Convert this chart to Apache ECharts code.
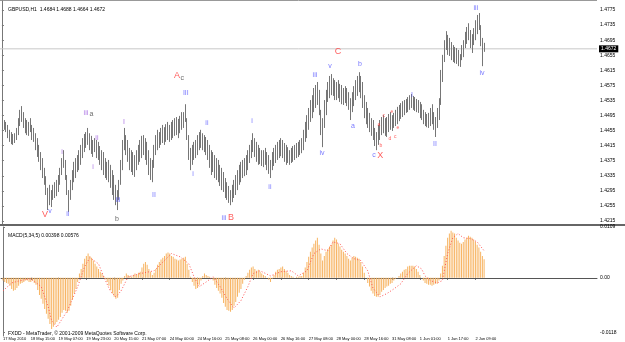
<!DOCTYPE html>
<html>
<head>
<meta charset="utf-8">
<script src="https://cdn.jsdelivr.net/npm/echarts@6/dist/echarts.min.js"></script>
<style>
html, body { margin: 0; padding: 0; background: #fff; }
#chart { width: 625px; height: 342px; }
</style>
</head>
<body>
<div id="chart"></div>
<script>
// GBPUSD H1, 17 May 2010 .. 2 Jun 2010, one entry per hourly bar
const highs = [
1.4488,1.4483,1.4478,1.4470,1.4457,1.4451,1.4446,1.4448,1.4462,1.4488,
1.4510,1.4520,1.4504,1.4488,1.4483,1.4478,1.4488,1.4470,1.4462,1.4448,
1.4435,1.4417,1.4398,1.4382,1.4356,1.4334,1.4303,1.4311,1.4297,1.4311,
1.4318,1.4324,1.4337,1.4356,1.4382,1.4403,1.4377,1.4337,1.4297,1.4324,
1.4350,1.4372,1.4382,1.4390,1.4403,1.4417,1.4435,1.4446,1.4451,1.4462,
1.4448,1.4441,1.4430,1.4435,1.4430,1.4425,1.4414,1.4403,1.4398,1.4382,
1.4372,1.4377,1.4364,1.4350,1.4337,1.4311,1.4297,1.4324,1.4377,1.4430,
1.4462,1.4443,1.4430,1.4409,1.4403,1.4398,1.4390,1.4403,1.4417,1.4430,
1.4441,1.4443,1.4435,1.4425,1.4403,1.4382,1.4377,1.4417,1.4443,1.4457,
1.4451,1.4462,1.4470,1.4464,1.4472,1.4478,1.4470,1.4478,1.4483,1.4488,
1.4491,1.4486,1.4494,1.4504,1.4504,1.4525,1.4488,1.4443,1.4409,1.4417,
1.4425,1.4430,1.4443,1.4451,1.4457,1.4448,1.4443,1.4438,1.4430,1.4417,
1.4403,1.4398,1.4390,1.4382,1.4377,1.4364,1.4356,1.4345,1.4329,1.4318,
1.4308,1.4297,1.4311,1.4324,1.4337,1.4350,1.4364,1.4372,1.4377,1.4382,
1.4390,1.4403,1.4417,1.4430,1.4448,1.4435,1.4425,1.4417,1.4409,1.4403,
1.4403,1.4409,1.4398,1.4390,1.4377,1.4398,1.4409,1.4417,1.4425,1.4430,
1.4435,1.4430,1.4422,1.4417,1.4411,1.4403,1.4409,1.4414,1.4417,1.4422,
1.4425,1.4430,1.4435,1.4457,1.4478,1.4496,1.4515,1.4536,1.4549,1.4568,
1.4576,1.4584,1.4563,1.4510,1.4488,1.4536,1.4563,1.4584,1.4600,1.4605,
1.4594,1.4589,1.4584,1.4589,1.4579,1.4576,1.4568,1.4573,1.4568,1.4557,
1.4541,1.4557,1.4573,1.4589,1.4600,1.4610,1.4600,1.4584,1.4549,1.4531,
1.4515,1.4502,1.4488,1.4483,1.4462,1.4451,1.4470,1.4483,1.4491,1.4496,
1.4488,1.4491,1.4499,1.4504,1.4496,1.4502,1.4510,1.4518,1.4523,1.4528,
1.4533,1.4536,1.4539,1.4544,1.4549,1.4552,1.4547,1.4544,1.4539,1.4536,
1.4531,1.4525,1.4510,1.4504,1.4499,1.4502,1.4515,1.4525,1.4504,1.4491,
1.4515,1.4541,1.4616,1.4656,1.4695,1.4719,1.4709,1.4701,1.4690,1.4682,
1.4677,1.4674,1.4669,1.4658,1.4682,1.4695,1.4717,1.4730,1.4740,1.4722,
1.4711,1.4727,1.4748,1.4762,1.4767,1.4735,1.4701,1.4688
];
const lows = [
1.4462,1.4457,1.4451,1.4435,1.4425,1.4419,1.4417,1.4422,1.4430,1.4443,
1.4467,1.4478,1.4462,1.4448,1.4443,1.4441,1.4451,1.4430,1.4425,1.4403,
1.4385,1.4372,1.4350,1.4329,1.4311,1.4284,1.4244,1.4257,1.4252,1.4271,
1.4276,1.4281,1.4292,1.4311,1.4337,1.4356,1.4324,1.4284,1.4239,1.4271,
1.4297,1.4318,1.4329,1.4345,1.4350,1.4364,1.4382,1.4398,1.4409,1.4417,
1.4403,1.4393,1.4385,1.4398,1.4382,1.4377,1.4364,1.4350,1.4337,1.4329,
1.4324,1.4318,1.4303,1.4284,1.4271,1.4257,1.4244,1.4271,1.4311,1.4350,
1.4403,1.4390,1.4372,1.4350,1.4345,1.4337,1.4332,1.4350,1.4364,1.4372,
1.4382,1.4390,1.4377,1.4364,1.4337,1.4324,1.4318,1.4356,1.4390,1.4403,
1.4409,1.4417,1.4422,1.4417,1.4425,1.4430,1.4425,1.4430,1.4435,1.4441,
1.4443,1.4435,1.4448,1.4457,1.4462,1.4478,1.4430,1.4377,1.4350,1.4364,
1.4377,1.4382,1.4390,1.4403,1.4409,1.4403,1.4398,1.4390,1.4377,1.4356,
1.4337,1.4345,1.4329,1.4324,1.4318,1.4308,1.4297,1.4292,1.4276,1.4271,
1.4263,1.4257,1.4265,1.4276,1.4284,1.4297,1.4311,1.4318,1.4329,1.4334,
1.4337,1.4350,1.4369,1.4382,1.4398,1.4385,1.4372,1.4364,1.4366,1.4361,
1.4358,1.4364,1.4350,1.4340,1.4329,1.4350,1.4361,1.4369,1.4377,1.4382,
1.4387,1.4382,1.4372,1.4364,1.4369,1.4364,1.4369,1.4372,1.4377,1.4382,
1.4385,1.4390,1.4395,1.4403,1.4425,1.4435,1.4457,1.4478,1.4488,1.4504,
1.4515,1.4523,1.4496,1.4443,1.4411,1.4462,1.4496,1.4531,1.4541,1.4549,
1.4547,1.4536,1.4536,1.4541,1.4531,1.4525,1.4523,1.4528,1.4520,1.4510,
1.4483,1.4504,1.4520,1.4536,1.4547,1.4557,1.4541,1.4515,1.4488,1.4472,
1.4462,1.4451,1.4441,1.4430,1.4414,1.4403,1.4417,1.4430,1.4443,1.4448,
1.4441,1.4438,1.4451,1.4457,1.4454,1.4462,1.4467,1.4472,1.4480,1.4486,
1.4491,1.4496,1.4502,1.4504,1.4510,1.4515,1.4510,1.4507,1.4504,1.4502,
1.4488,1.4483,1.4472,1.4467,1.4464,1.4462,1.4467,1.4472,1.4457,1.4438,
1.4462,1.4483,1.4523,1.4584,1.4637,1.4669,1.4656,1.4653,1.4642,1.4637,
1.4634,1.4632,1.4626,1.4624,1.4642,1.4650,1.4674,1.4685,1.4695,1.4674,
1.4661,1.4682,1.4695,1.4711,1.4722,1.4679,1.4626,1.4664
];
const lastPrice = 1.4672;

// MACD(5,34,5) main histogram, one value per bar
const macd = [
-0.0006,-0.0009,-0.0011,-0.0013,-0.0017,-0.0024,-0.0028,-0.0026,-0.0022,-0.0017,
-0.0013,-0.0011,-0.0009,-0.0006,-0.0006,-0.0009,-0.0009,-0.0006,-0.0011,-0.0015,
-0.0026,-0.0037,-0.0045,-0.0056,-0.0067,-0.0077,-0.0088,-0.0099,-0.0110,-0.0105,
-0.0099,-0.0095,-0.0090,-0.0084,-0.0075,-0.0069,-0.0071,-0.0075,-0.0071,-0.0060,
-0.0047,-0.0034,-0.0024,-0.0009,0.0009,0.0019,0.0030,0.0041,0.0047,0.0052,
0.0047,0.0043,0.0037,0.0030,0.0024,0.0019,0.0013,0.0009,0.0004,-0.0002,
-0.0009,-0.0017,-0.0026,-0.0034,-0.0041,-0.0045,-0.0043,-0.0026,-0.0013,-0.0006,
0.0004,0.0009,0.0006,0.0004,0.0002,0.0006,0.0009,0.0006,0.0011,0.0013,
0.0022,0.0030,0.0034,0.0028,0.0019,0.0013,0.0006,0.0011,0.0019,0.0028,
0.0034,0.0039,0.0043,0.0047,0.0052,0.0054,0.0052,0.0047,0.0045,0.0041,
0.0039,0.0037,0.0039,0.0041,0.0043,0.0045,0.0030,0.0017,0.0002,-0.0009,
-0.0017,-0.0024,-0.0022,-0.0015,-0.0006,0.0004,0.0009,0.0006,0.0004,0.0002,
0.0000,-0.0006,-0.0015,-0.0022,-0.0028,-0.0034,-0.0043,-0.0054,-0.0062,-0.0069,
-0.0071,-0.0073,-0.0069,-0.0060,-0.0052,-0.0041,-0.0032,-0.0024,-0.0013,-0.0004,
0.0004,0.0011,0.0017,0.0022,0.0024,0.0019,0.0015,0.0017,0.0013,0.0009,
0.0006,0.0004,0.0000,-0.0004,-0.0009,-0.0002,0.0006,0.0013,0.0017,0.0019,
0.0022,0.0024,0.0019,0.0015,0.0011,0.0006,0.0004,0.0002,0.0000,0.0002,
0.0002,0.0004,0.0004,0.0011,0.0022,0.0034,0.0045,0.0056,0.0065,0.0073,
0.0080,0.0086,0.0071,0.0052,0.0037,0.0047,0.0056,0.0062,0.0067,0.0071,
0.0080,0.0086,0.0082,0.0073,0.0067,0.0060,0.0056,0.0052,0.0047,0.0041,
0.0037,0.0043,0.0047,0.0045,0.0043,0.0041,0.0034,0.0024,0.0011,0.0000,
-0.0011,-0.0019,-0.0028,-0.0034,-0.0039,-0.0041,-0.0041,-0.0037,-0.0030,-0.0026,
-0.0022,-0.0019,-0.0017,-0.0013,-0.0011,-0.0006,-0.0002,0.0000,0.0004,0.0009,
0.0013,0.0017,0.0019,0.0024,0.0026,0.0026,0.0026,0.0024,0.0019,0.0013,
0.0006,0.0000,-0.0006,-0.0011,-0.0013,-0.0015,-0.0015,-0.0017,-0.0015,-0.0013,
-0.0013,-0.0006,0.0009,0.0026,0.0047,0.0069,0.0086,0.0095,0.0101,0.0097,
0.0095,0.0086,0.0080,0.0075,0.0073,0.0077,0.0082,0.0086,0.0090,0.0088,
0.0086,0.0082,0.0077,0.0071,0.0065,0.0056,0.0047,0.0040
];
// signal line, read at [bar, value] points
const signal = [
[0,-0.0028],[5,-0.0011],[10,-0.0006],[16,-0.0002],[22,-0.0019],[26,-0.0062],
[28,-0.0092],[31,-0.0106],[37,-0.0071],[43,-0.0019],[47,0.0024],[50,0.0043],
[55,0.0030],[58,0.0002],[62,-0.0030],[65,-0.0041],[68,-0.0028],[72,0.0002],
[79,0.0009],[87,0.0015],[93,0.0037],[97,0.0052],[102,0.0045],[107,0.0030],
[110,0.0002],[113,-0.0019],[117,-0.0009],[121,0.0002],[125,-0.0019],[129,-0.0045],
[133,-0.0065],[137,-0.0049],[141,-0.0019],[144,0.0009],[148,0.0015],[154,0.0004],
[160,0.0013],[166,0.0015],[170,0.0004],[175,0.0015],[179,0.0052],[183,0.0062],
[187,0.0058],[190,0.0077],[194,0.0073],[198,0.0052],[202,0.0041],[206,0.0037],
[210,0.0015],[213,-0.0022],[217,-0.0041],[221,-0.0034],[225,-0.0024],[229,-0.0013],
[233,0.0009],[238,0.0026],[241,0.0019],[243,0.0004],[246,-0.0006],[250,-0.0011],
[253,-0.0006],[256,0.0052],[259,0.0086],[262,0.0095],[265,0.0086],[269,0.0084],
[273,0.0077],[277,0.0058]
];

const priceTicks = [1.4215,1.4255,1.4295,1.4335,1.4375,1.4415,1.4455,1.4495,
  1.4535,1.4575,1.4615,1.4655,1.4695,1.4735,1.4775];
const macdTicks = [0.0109, 0, -0.0118];
const macdTickText = ['0.0109', '0.00', '-0.0118'];
const timeTickBars = [0,16,32,48,64,80,96,112,128,144,160,176,192,208,224,240,256,272];
const timeTickText = ['17 May 2010','18 May 15:00','19 May 07:00','19 May 23:00','20 May 15:00',
  '21 May 07:00','24 May 00:00','24 May 16:00','25 May 08:00','26 May 00:00','26 May 16:00',
  '27 May 08:00','28 May 00:00','28 May 16:00','31 May 08:00','1 Jun 01:00','1 Jun 17:00','2 Jun 09:00'];

// wave count text: [text, bar, price, kind]
const waves = [
  ['V',24.7,1.4231,'big'],['v',27.6,1.4242,'blue'],['ii',37.9,1.4234,'blue'],
  ['i',34.5,1.4398,'purple'],['iii',48.3,1.4502,'purple'],['a',51.4,1.4500,'dark'],
  ['ii',54.6,1.4435,'purple'],['i',52.3,1.4358,'purple'],['I',70.1,1.4478,'purple'],
  ['iii',66.7,1.4271,'blue'],['b',66.1,1.4220,'dark'],['II',87.4,1.4284,'blue'],
  ['A',100.6,1.4600,'big'],['c',103.6,1.4594,'dark'],['III',105.7,1.4555,'blue'],
  ['i',109.8,1.4340,'blue'],['ii',117.8,1.4475,'blue'],['iii',127.6,1.4223,'blue'],
  ['B',131.6,1.4223,'big'],['i',143.7,1.4480,'blue'],['ii',154.0,1.4305,'blue'],
  ['iii',179.9,1.4603,'blue'],['iv',183.9,1.4396,'blue'],['v',188.5,1.4627,'blue'],
  ['C',193.1,1.4666,'big'],['b',205.7,1.4632,'blue'],['a',201.7,1.4467,'blue'],
  ['c',213.8,1.4390,'blue'],['X',217.4,1.4390,'big'],
  ['a',216.7,1.4470,'tiny'],['b',217.8,1.4414,'tiny'],['c',219.5,1.4494,'tiny'],
  ['d',223.0,1.4433,'tiny'],['e',224.1,1.4504,'tiny'],['c',226.0,1.4440,'tiny'],['e',227.5,1.4462,'tiny'],
  ['I',235.6,1.4550,'blue'],['II',248.9,1.4420,'blue'],['iii',272.4,1.4780,'blue'],
  ['iv',275.9,1.4608,'blue']
];
const waveStyle = {
  big: { color: '#ff3333', fontSize: 9 },
  blue: { color: '#5555ff', fontSize: 7 },
  purple: { color: '#9955dd', fontSize: 7 },
  dark: { color: '#444444', fontSize: 7 },
  tiny: { color: '#ff3333', fontSize: 5 }
};

const FONT = 'Liberation Sans, Arial, sans-serif';
const xMin = -1.1, xMax = 342;

const chart = echarts.init(document.getElementById('chart'), null, { renderer: 'canvas' });

const option = {
  animation: false,
  backgroundColor: '#ffffff',
  textStyle: { fontFamily: FONT },
  title: [
    { text: 'GBPUSD,H1  1.4684 1.4688 1.4664 1.4672', left: 3, top: 2,
      textStyle: { fontSize: 5, fontWeight: 'normal', color: '#000', fontFamily: FONT } },
    { text: 'MACD(5,34,5) 0.00398 0.00576', left: 3, top: 228,
      textStyle: { fontSize: 5, fontWeight: 'normal', color: '#000', fontFamily: FONT } },
    { text: 'FXDD - MetaTrader, \u00a9 2001-2009 MetaQuotes Software Corp.', left: 3, top: 326,
      textStyle: { fontSize: 5, fontWeight: 'normal', color: '#000', fontFamily: FONT } }
  ],
  grid: [
    { left: 0, right: 28, top: 1, height: 223 },
    { left: 0, right: 28, top: 227, height: 109 }
  ],
  xAxis: [
    { gridIndex: 0, type: 'value', min: xMin, max: xMax, show: false },
    { gridIndex: 1, type: 'value', min: xMin, max: xMax,
      splitLine: { show: false },
      axisLine: { show: true, lineStyle: { color: '#555', width: 1 } },
      axisTick: { show: true, customValues: timeTickBars, length: 2, lineStyle: { color: '#555' } },
      axisLabel: { customValues: timeTickBars, fontSize: 4, color: '#000', margin: 1, align: 'left',
        hideOverlap: false,
        formatter: v => timeTickText[timeTickBars.indexOf(Math.round(v))] || '' } }
  ],
  yAxis: [
    { gridIndex: 0, type: 'value', position: 'right', min: 1.4207, max: 1.4799,
      splitLine: { show: false },
      axisLine: { show: true, lineStyle: { color: '#777' } },
      axisTick: { show: true, customValues: priceTicks, length: 2, lineStyle: { color: '#777' } },
      axisLabel: { customValues: priceTicks, fontSize: 5, color: '#000', margin: 3,
        formatter: v => v.toFixed(4) } },
    { gridIndex: 1, type: 'value', position: 'right', min: -0.0125, max: 0.0109,
      splitLine: { show: false },
      axisLine: { show: true, lineStyle: { color: '#777' } },
      axisTick: { show: true, customValues: macdTicks, length: 2, lineStyle: { color: '#777' } },
      axisLabel: { customValues: macdTicks, fontSize: 5, color: '#000', margin: 3,
        formatter: v => macdTickText[macdTicks.indexOf(v)] || '' } }
  ],
  graphic: [
    { type: 'line', shape: { x1: 0, y1: 0.5, x2: 597, y2: 0.5 }, style: { stroke: '#999', lineWidth: 1 } },
    { type: 'line', shape: { x1: 0, y1: 225, x2: 625, y2: 225 }, style: { stroke: '#666', lineWidth: 2 } }
  ],
  series: [
    {
      name: 'bid', type: 'line', xAxisIndex: 0, yAxisIndex: 0, silent: true,
      showSymbol: false, z: 1,
      lineStyle: { color: '#c8c8c8', width: 1 },
      data: [[xMin, lastPrice], [xMax, lastPrice]],
      endLabel: { show: true, formatter: lastPrice.toFixed(4), color: '#fff',
        backgroundColor: '#000', fontSize: 5, padding: [1, 2], distance: 2 }
    },
    {
      name: 'GBPUSD', type: 'custom', xAxisIndex: 0, yAxisIndex: 0, z: 2,
      data: highs.map((h, i) => [i, h, lows[i]]),
      renderItem: (params, api) => {
        const top = api.coord([api.value(0), api.value(1)]);
        const bot = api.coord([api.value(0), api.value(2)]);
        const x = Math.round(top[0]) + 0.5;
        return { type: 'line', shape: { x1: x, y1: top[1], x2: x, y2: bot[1] },
          style: { stroke: '#767676', lineWidth: 1 } };
      }
    },
    {
      name: 'waves', type: 'scatter', xAxisIndex: 0, yAxisIndex: 0, symbolSize: 0, z: 3,
      data: waves.map(w => ({
        value: [w[1], w[2]],
        label: { show: true, formatter: w[0], position: 'inside', fontFamily: FONT,
          color: waveStyle[w[3]].color, fontSize: waveStyle[w[3]].fontSize }
      }))
    },
    {
      name: 'MACD', type: 'bar', xAxisIndex: 1, yAxisIndex: 1, barWidth: 1,
      itemStyle: { color: '#f7b462' },
      data: macd.map((v, i) => [i, v])
    },
    {
      name: 'Signal', type: 'line', xAxisIndex: 1, yAxisIndex: 1, showSymbol: false,
      lineStyle: { color: '#ff5555', width: 1, type: [1, 2] },
      data: signal
    }
  ]
};
chart.setOption(option);
</script>
</body>
</html>
